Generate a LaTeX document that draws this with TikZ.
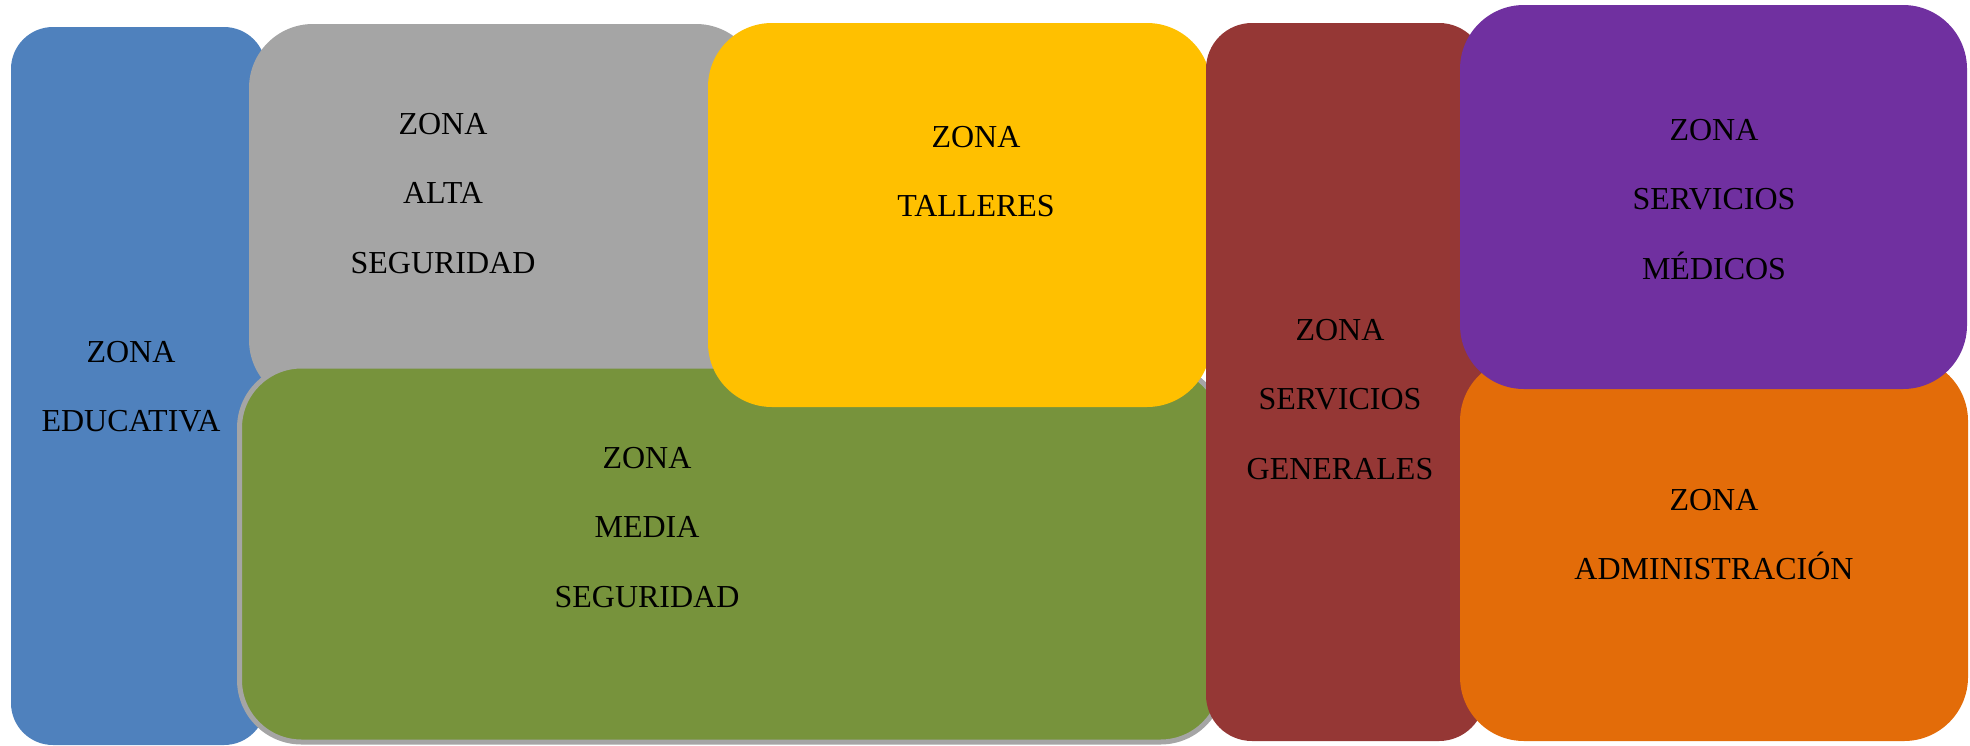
\documentclass[tikz,border=0pt]{standalone}
\usepackage{fontspec}
\setmainfont{Liberation Serif}
\definecolor{cblue}{HTML}{4F81BD}
\definecolor{cgray}{HTML}{A5A5A5}
\definecolor{cyellow}{HTML}{FFC000}
\definecolor{cgreen}{HTML}{77933C}
\definecolor{cred}{HTML}{953735}
\definecolor{cpurple}{HTML}{7030A0}
\definecolor{corange}{HTML}{E36C09}
\tikzset{
  zone/.style={rectangle, inner sep=0pt, outer sep=0pt, draw=none},
  ztext/.style={anchor=north, inner sep=0pt, align=center, text=black,
    font=\fontsize{32}{69.5}\selectfont}
}
\begin{document}
\begin{tikzpicture}[x=1pt,y=-1pt]
\useasboundingbox (0,0) rectangle (1970,745);
% zones (back to front)
\node[zone, fill=cblue, rounded corners=42pt, minimum width=255pt, minimum height=718pt] (edu) at (138.5,386) {};
\node[zone, fill=cgray, rounded corners=64pt, minimum width=511pt, minimum height=380pt] (alta) at (504.5,214) {};
\node[zone, fill=cgreen, draw=cgray, line width=5pt, rounded corners=62pt, minimum width=983pt, minimum height=376pt] (media) at (731,554) {};
\node[zone, fill=cyellow, rounded corners=64pt, minimum width=503pt, minimum height=384pt] (talleres) at (959.5,215) {};
\node[zone, fill=cred, rounded corners=46pt, minimum width=279pt, minimum height=718pt] (generales) at (1345.5,382) {};
\node[zone, fill=corange, rounded corners=64pt, minimum width=508pt, minimum height=384pt] (admin) at (1714,549) {};
\node[zone, fill=cpurple, rounded corners=64pt, minimum width=507pt, minimum height=384pt] (medicos) at (1713.5,197) {};
% texts
\node[ztext] (tedu) at (131,340.8) {ZONA\\EDUCATIVA};
\node[ztext] (talta) at (443,112.8) {ZONA\\ALTA\\SEGURIDAD};
\node[ztext] (ttalleres) at (976,125.8) {ZONA\\TALLERES};
\node[ztext] (tmedia) at (647,446.8) {ZONA\\MEDIA\\SEGURIDAD};
\node[ztext] (tgenerales) at (1340,318.8) {ZONA\\SERVICIOS\\GENERALES};
\node[ztext] (tmedicos) at (1714,118.8) {ZONA\\SERVICIOS\\MÉDICOS};
\node[ztext] (tadmin) at (1714,488.8) {ZONA\\ADMINISTRACIÓN};
\end{tikzpicture}
\end{document}
